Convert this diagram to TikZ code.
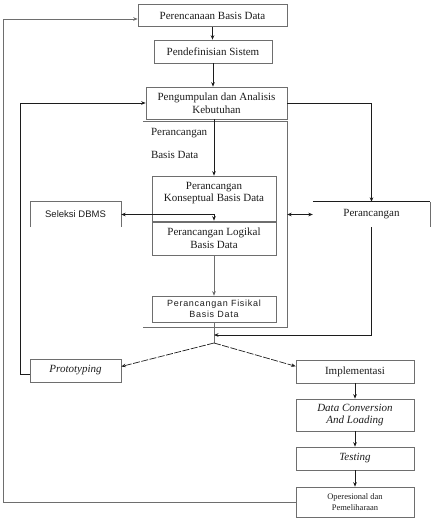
\documentclass[tikz,border=0pt]{standalone}
\usepackage{fontspec}
\setmainfont{Liberation Serif}
\setsansfont{Liberation Sans}
\usetikzlibrary{arrows.meta, positioning, calc}
\definecolor{CLine}{HTML}{6E6E6E}
\definecolor{CInk}{HTML}{1C1C1C}
\newcommand\stagefont{\fontsize{11}{12.5}\selectfont}
\newcommand\smallsans{\sffamily\fontsize{9}{11}\selectfont}

\tikzset{
    stage/.style={draw=CLine, line width=0.6pt, align=center, inner sep=1pt, text=CInk, font=\stagefont},
    flow/.style={->, CInk, line width=0.7pt},
    loop/.style={->, CInk, line width=0.9pt}
}

\begin{document}
\begin{tikzpicture}[x=1pt, y=-1pt, >={Stealth[length=4.5pt, width=3.6pt]}]
    \useasboundingbox (0,0) rectangle (433,521);

    % Planning column
    \node[stage, minimum width=149pt, minimum height=22pt] (plan) at (212.5,15.5) {Perencanaan Basis Data};
    \node[stage, minimum width=118pt, minimum height=23pt] (sysdef) at (213,51.5) {Pendefinisian Sistem};
    \node[stage, minimum width=141pt, minimum height=32pt] (needs) at (216.5,103) {Pengumpulan dan Analisis\\Kebutuhan};

    % Design area (open on the left)
    \node[minimum width=144pt, minimum height=205pt, inner sep=0pt] (area) at (215,224.5) {};
    \draw[CLine, line width=0.6pt] (area.north west) -- (area.north east) -- (area.south east) -- (area.south west);
    \node[anchor=north west, align=left, inner sep=0pt, text=CInk, font=\stagefont] (areatitle) at ($(area.north west)+(8,6)$) {Perancangan\\[11pt]Basis Data};
    \node[stage, minimum width=124pt, minimum height=46pt, text depth=14pt] (concept) at (214,199) {Perancangan\\Konseptual Basis Data};
    \node[stage, minimum width=124pt, minimum height=34pt] (logic) at (214,238) {Perancangan Logikal\\Basis Data};
    \node[stage, minimum width=124pt, minimum height=26pt, font=\smallsans\addfontfeature{LetterSpace=8}] (phys) at (214,309) {Perancangan Fisikal\\Basis Data};

    % Side boxes
    \node[minimum width=91pt, minimum height=25pt, text=CInk, font=\sffamily\fontsize{9.5}{11}\selectfont] (dbms) at (75.5,214.5) {Seleksi DBMS};
    \draw[CLine, line width=0.6pt] (dbms.south west) -- (dbms.north west) -- (dbms.north east) -- (dbms.south east);
    \node[minimum width=117pt, minimum height=25pt, text=CInk, font=\stagefont] (design) at (371.5,214.5) {Perancangan};
    \draw[CInk, line width=0.9pt] (design.north west) -- (design.north east);
    \draw[CLine, line width=0.6pt] (design.north east) -- (design.south east);

    % Implementation column
    \node[stage, minimum width=91pt, minimum height=23pt, font=\stagefont\itshape] (proto) at (75.5,370.5) {Prototyping};
    \node[stage, minimum width=118pt, minimum height=23pt] (impl) at (355,371.5) {Implementasi};
    \node[stage, minimum width=118pt, minimum height=32pt, font=\stagefont\itshape] (convert) at (355,415) {Data Conversion\\And Loading};
    \node[stage, minimum width=118pt, minimum height=23pt, font=\stagefont\itshape] (testing) at (355,458.5) {Testing};
    \node[stage, minimum width=118pt, minimum height=30pt, font=\fontsize{8.5}{11}\selectfont] (operate) at (355,502) {Operesional dan\\Pemeliharaan};

    % Connectors
    \coordinate (merge) at (214,335);
    \coordinate (fork) at (214,343);
    \draw[flow] (plan.south) -- (plan.south |- sysdef.north);
    \draw[flow] (sysdef.south) -- (sysdef.south |- needs.north);
    \draw[flow] (needs.south -| concept.north) -- (concept.north);
    \draw[loop] (needs.east) -| (design.north);
    \draw[flow, <->] (dbms.east) -| (logic.north);
    \draw[flow, <->] (area.east |- design.west) -- (design.west);
    \draw[->, CLine, line width=0.5pt] (logic) -- (phys);
    \draw[CLine, line width=0.8pt] (phys.south) -- (fork);
    \draw[loop] (design.south) |- (merge);
    \draw[flow, dash pattern=on 7pt off 1.5pt] (fork) -- (proto.5);
    \draw[flow, dash pattern=on 7pt off 1.5pt] (fork) -- (impl.175);
    \draw[loop] (proto.west) ++(0,4) -- ++(-9,0) |- (needs.west);
    \draw[->, CLine, line width=0.6pt] (operate.west) -- ++(-292,0) |- ($(plan.west)+(0,3.5)$);
    \draw[flow] (impl) -- (convert);
    \draw[flow] (convert) -- (testing);
    \draw[flow] (testing) -- (operate);
\end{tikzpicture}
\end{document}
